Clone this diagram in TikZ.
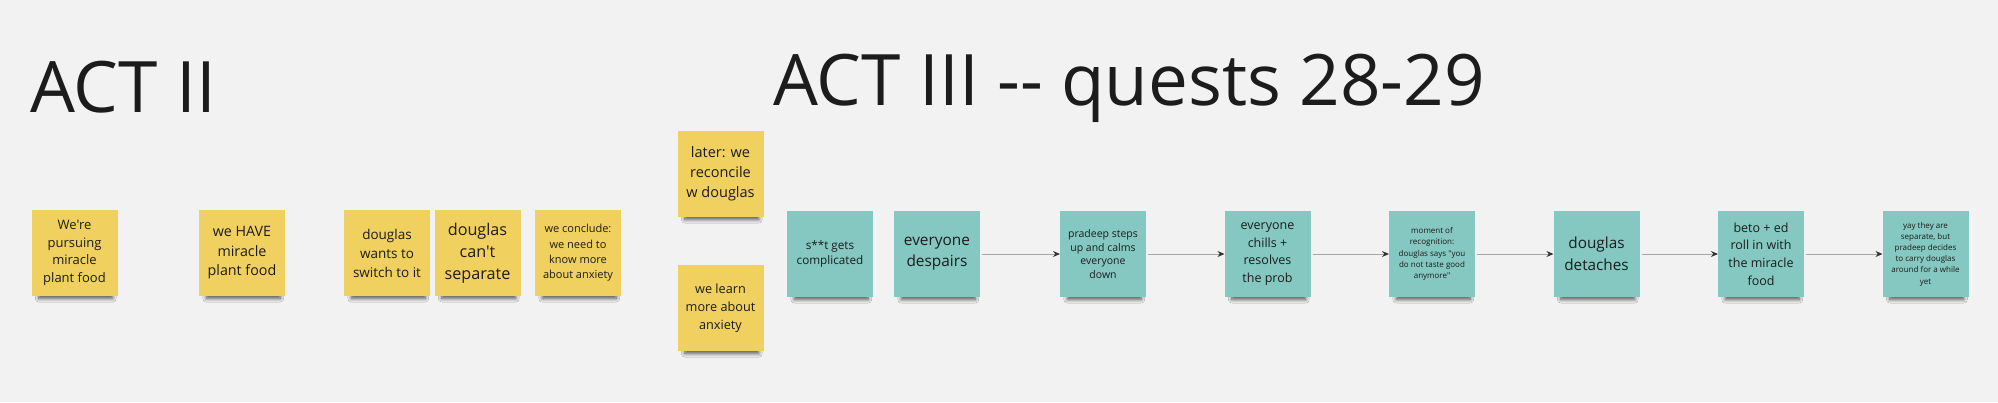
\documentclass[tikz,border=0pt]{standalone}
\usepackage{fontspec}
\setmainfont{Open Sans}[Ligatures=TeXOff]
\usepackage{xcolor}
\usetikzlibrary{arrows.meta, positioning, shadows.blur}

\definecolor{boardbg}{HTML}{F2F2F2}
\definecolor{stickyyellow}{HTML}{F0D05E}
\definecolor{stickyteal}{HTML}{84C8C1}
\definecolor{inkdark}{HTML}{1C1C1C}
\newcommand{\fz}[2]{\fontsize{#1}{#2}\selectfont}

\begin{document}
\begin{tikzpicture}[
    x=0.5pt, y=-0.5pt,
    title/.style={font=\fz{35.5pt}{42pt}, text=inkdark, inner sep=0pt, anchor=base west},
    note/.style={minimum width=43pt, minimum height=43pt, inner sep=0pt, outer sep=0pt, align=center, text=inkdark,
        blur shadow={shadow xshift=0.75pt, shadow yshift=-5pt, shadow scale=0.86, shadow opacity=65, shadow blur radius=2pt, shadow blur steps=10}},
    ynote/.style={note, fill=stickyyellow},
    tnote/.style={note, fill=stickyteal},
    arr/.style={-{Stealth[length=3.5pt, width=3pt, color=black!80]}, draw=black!35, line width=0.5pt, shorten <=1pt},
]

\fill[boardbg] (0,0) rectangle (1998,402);
\useasboundingbox (0,0) rectangle (1998,402);

\node[title] (act2) at (30,112) {ACT II};
\node[title] (act3) at (773,105) {ACT III -- quests 28-29};

\node[ynote, font=\fz{6.5pt}{8.85pt}] (y1) at (74.5,253) {We're\\pursuing\\miracle\\plant food};
\node[ynote, right=40.75pt of y1, font=\fz{7.15pt}{9.75pt}] (y2) {we HAVE\\miracle\\plant food};
\node[ynote, right=29.5pt of y2, font=\fz{6.75pt}{9.5pt}] (y3) {douglas\\wants to\\switch to it};
\node[ynote, right=2.25pt of y3, font=\fz{8.1pt}{11pt}] (y4) {douglas\\can't\\separate};
\node[ynote, right=7.25pt of y4, font=\fz{5.5pt}{7.65pt}] (y5) {we conclude:\\we need to\\know more\\about anxiety};
\node[ynote, font=\fz{7.25pt}{10pt}] (y6) at (720.5,174) {later: we\\reconcile\\w douglas};
\node[ynote, below=24pt of y6, font=\fz{6.35pt}{9pt}] (y7) {we learn\\more about\\anxiety};

\node[tnote, font=\fz{5.85pt}{7.5pt}] (t1) at (830,254) {s**t gets\\complicated};
\node[tnote, right=10.5pt of t1, font=\fz{7.7pt}{10.5pt}] (t2) {everyone\\despairs};
\node[tnote, right=40pt of t2, font=\fz{5.25pt}{6.75pt}] (t3) {pradeep steps\\up and calms\\everyone\\down};
\node[tnote, right=39.25pt of t3, font=\fz{6.25pt}{8.75pt}] (t4) {everyone\\chills +\\resolves\\the prob};
\node[tnote, right=39.25pt of t4, font=\fz{4pt}{5.6pt}] (t5) {moment of\\recognition:\\douglas says "you\\do not taste good\\anymore"};
\node[tnote, right=39.25pt of t5, font=\fz{7.65pt}{10.85pt}] (t6) {douglas\\detaches};
\node[tnote, right=39.25pt of t6, font=\fz{6.25pt}{8.85pt}] (t7) {beto + ed\\roll in with\\the miracle\\food};
\node[tnote, right=39.25pt of t7, font=\fz{4pt}{5.6pt}] (t8) {yay they are\\separate, but\\pradeep decides\\to carry douglas\\around for a while\\yet};

\draw[arr] (t2) -- (t3);
\draw[arr] (t3) -- (t4);
\draw[arr] (t4) -- (t5);
\draw[arr] (t5) -- (t6);
\draw[arr] (t6) -- (t7);
\draw[arr] (t7) -- (t8);

\end{tikzpicture}
\end{document}
